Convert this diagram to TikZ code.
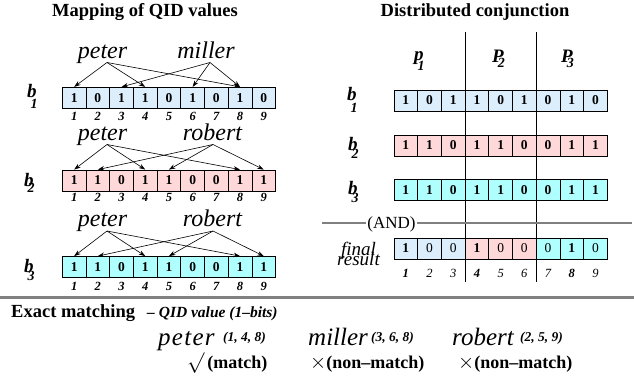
\documentclass[tikz,border=0pt]{standalone}
\usepackage{fontspec}
\setmainfont{Liberation Serif}
\usetikzlibrary{arrows.meta}
\definecolor{cBlue}{HTML}{DCEEFC}
\definecolor{cPink}{HTML}{FFD9D9}
\definecolor{cCyan}{HTML}{B0FFFF}
\definecolor{lineGray}{HTML}{808080}
\newcommand\stk[3]{\textbf{\textit{#1}}\kern-6pt\raisebox{-#3pt}{\fontsize{14}{14}\selectfont\textbf{\textit{#2}}}}
\begin{document}
\begin{tikzpicture}[x=1pt,y=-1pt,
  cell/.style={draw, line width=0.8pt, minimum width=23.7pt, minimum height=21pt, inner sep=0pt,
    font=\fontsize{13.5}{13.5}\selectfont\bfseries},
  cellf/.style={draw, line width=0.8pt, minimum width=23.7pt, minimum height=21pt, inner sep=0pt,
    font=\fontsize{13.5}{13.5}\selectfont},
  idx/.style={inner sep=0pt, font=\fontsize{12.5}{12.5}\selectfont\bfseries\itshape},
  idxf/.style={inner sep=0pt, font=\fontsize{12.5}{12.5}\selectfont\itshape},
  qid/.style={inner sep=0pt, anchor=base, font=\fontsize{24}{24}\selectfont\itshape},
  qidb/.style={inner sep=0pt, anchor=base west, font=\fontsize{25}{25}\selectfont\itshape},
  bitpos/.style={inner sep=0pt, anchor=base west, font=\fontsize{13.5}{13.5}\selectfont\bfseries\itshape},
  lbl/.style={inner sep=0pt, anchor=base west, font=\fontsize{19}{19}\selectfont},
  title/.style={inner sep=0pt, anchor=base, font=\fontsize{18.5}{18.5}\selectfont\bfseries},
  arr/.style={-{Stealth[length=6.5pt,width=4.5pt]}, line width=0.6pt},
  grayline/.style={draw=lineGray, line width=1.6pt},
  partline/.style={draw=black, line width=0.8pt},
  res/.style={inner sep=0pt, anchor=base west, font=\fontsize{18}{18}\selectfont\bfseries},
  reslbl/.style={inner sep=0pt, anchor=base, font=\fontsize{19}{19}\selectfont\itshape}
]
\useasboundingbox (0,0) rectangle (634,378);

% ---------------- titles
\node[title] (t1) at (145,16) {Mapping of QID values};
\node[title] (t2) at (475,16.5) {Distributed conjunction};

% ---------------- left panel: b1
\foreach \v [count=\i] in {1,0,1,1,0,1,0,1,0}
  \node[cell,fill=cBlue] (a\i) at ({62.3+23.7*(\i-0.5)},97.8) {\v};
\foreach \i in {1,...,9}
  \node[idx] (an\i) at ({62.3+23.7*(\i-0.5)},116.5) {\i};
\node[lbl] (la) at (27,97) {\stk{b}{1}{11}};
\node[qid] (w1p) at (102.5,58) {peter};
\node[qid] (w1m) at (206,58) {miller};
\coordinate (o1p) at (107,62.5);
\coordinate (o1m) at (210,62.5);
\draw[arr] (o1p) -- (a1.north);
\draw[arr] (o1p) -- (a4.north);
\draw[arr] (o1p) -- (a8.north);
\draw[arr] (o1m) -- (a3.north);
\draw[arr] (o1m) -- (a6.north);
\draw[arr] (o1m) -- (a8.north);

% ---------------- left panel: b2
\foreach \v [count=\i] in {1,1,0,1,1,0,0,1,1}
  \node[cell,fill=cPink] (b\i) at ({62.3+23.7*(\i-0.5)},180.5) {\v};
\foreach \i in {1,...,9}
  \node[idx] (bn\i) at ({62.3+23.7*(\i-0.5)},197.5) {\i};
\node[lbl] (lb) at (24,186) {\stk{b}{2}{6}};
\node[qid] (w2p) at (102.5,140) {peter};
\node[qid] (w2r) at (212.5,140) {robert};
\coordinate (o2p) at (107,144.5);
\coordinate (o2r) at (213,144.5);
\draw[arr] (o2p) -- (b1.north);
\draw[arr] (o2p) -- (b4.north);
\draw[arr] (o2p) -- (b8.north);
\draw[arr] (o2r) -- (b2.north);
\draw[arr] (o2r) -- (b5.north);
\draw[arr] (o2r) -- (b9.north);

% ---------------- left panel: b3
\foreach \v [count=\i] in {1,1,0,1,1,0,0,1,1}
  \node[cell,fill=cCyan] (c\i) at ({62.3+23.7*(\i-0.5)},267) {\v};
\foreach \i in {1,...,9}
  \node[idx] (cn\i) at ({62.3+23.7*(\i-0.5)},286) {\i};
\node[lbl] (lc) at (24,272) {\stk{b}{3}{8}};
\node[qid] (w3p) at (102.5,226.5) {peter};
\node[qid] (w3r) at (212.5,226.5) {robert};
\coordinate (o3p) at (107,231);
\coordinate (o3r) at (213,231);
\draw[arr] (o3p) -- (c1.north);
\draw[arr] (o3p) -- (c4.north);
\draw[arr] (o3p) -- (c8.north);
\draw[arr] (o3r) -- (c2.north);
\draw[arr] (o3r) -- (c5.north);
\draw[arr] (o3r) -- (c9.north);

% ---------------- right panel
\coordinate (v1t) at (465.1,32);
\coordinate (v1b) at (465.1,282);
\coordinate (v2t) at (536.2,32);
\coordinate (v2b) at (536.2,282);
\draw[partline] (v1t) -- (v1b);
\draw[partline] (v2t) -- (v2b);

\node[lbl] (pp1) at (414,60) {\stk{p}{1}{10}};
\node[lbl] (pp2) at (492,62) {\stk{P}{2}{5}};
\node[lbl] (pp3) at (561,62) {\stk{P}{3}{5}};

\foreach \v [count=\i] in {1,0,1,1,0,1,0,1,0}
  \node[cell,fill=cBlue] (d\i) at ({394+23.7*(\i-0.5)},100.5) {\v};
\foreach \v [count=\i] in {1,1,0,1,1,0,0,1,1}
  \node[cell,fill=cPink] (e\i) at ({394+23.7*(\i-0.5)},145.5) {\v};
\foreach \v [count=\i] in {1,1,0,1,1,0,0,1,1}
  \node[cell,fill=cCyan] (f\i) at ({394+23.7*(\i-0.5)},190) {\v};

\node[lbl] (ld) at (347,100) {\stk{b}{1}{12}};
\node[lbl] (le) at (348,150) {\stk{b}{2}{8}};
\node[lbl] (lf) at (348,194) {\stk{b}{3}{8}};

% AND line
\node[inner sep=1pt, font=\fontsize{17}{17}\selectfont] (and) at (391.5,224.5) {(AND)};
\coordinate (andL) at (322,223);
\coordinate (andR) at (632,223);
\draw[grayline] (andL) -- (and.west |- andL);
\draw[grayline] (and.east |- andR) -- (andR);

% final result
\foreach \v/\col [count=\i] in {1/cBlue,0/cBlue,0/cBlue,1/cPink,0/cPink,0/cPink,0/cCyan,1/cCyan,0/cCyan}
  \node[cellf,fill=\col] (g\i) at ({394+23.7*(\i-0.5)},248.5) {\ifnum\v=1 \bfseries\fi\v};
\foreach \i/\bb in {1/1,2/0,3/0,4/1,5/0,6/0,7/0,8/1,9/0}
  \node[idxf] (gn\i) at ({394+23.7*(\i-0.5)},273) {\ifnum\bb=1 \bfseries\fi\i};
\node[reslbl] (fin) at (358.5,255) {final};
\node[reslbl] (rsl) at (358.5,265.5) {result};

% ---------------- bottom
\coordinate (hl) at (0,297);
\coordinate (hr) at (634,297);
\draw[draw=lineGray, line width=3pt] (hl) -- (hr);

\node[inner sep=0pt, anchor=base west, font=\fontsize{18.5}{18.5}\selectfont\bfseries] (em) at (11,317) {Exact matching};
\node[inner sep=0pt, anchor=base west, font=\fontsize{15.5}{15.5}\selectfont\bfseries\itshape] (qv) at (147,317) {– QID value (1–bits)};

\node[qidb] (bp) at (158,345) {\addfontfeature{LetterSpace=5}peter};
\node[bitpos] (bpp) at (223,341.5) {(1, 4, 8)};
\node[qidb] (bm) at (308,345) {miller};
\node[bitpos] (bmp) at (371,341.5) {(3, 6, 8)};
\node[qidb] (br) at (452,345) {robert};
\node[bitpos] (brp) at (520,341.5) {(2, 5, 9)};

\node[res] (r1) at (187,368) {{\fontsize{20}{20}\selectfont$\surd$}\,(match)};
\node[res] (r2) at (310,368) {{\fontsize{20}{20}\selectfont$\times$}(non–match)};
\node[res] (r3) at (458,368) {{\fontsize{20}{20}\selectfont$\times$}(non–match)};
\end{tikzpicture}
\end{document}
